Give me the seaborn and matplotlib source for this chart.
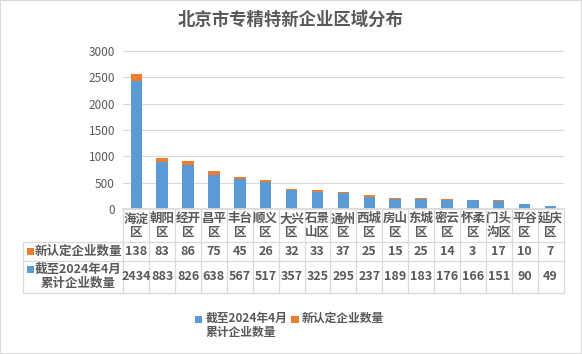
import pandas as pd
import seaborn as sns
import matplotlib.pyplot as plt
import matplotlib.transforms as mtrans
from matplotlib.patches import Rectangle
from matplotlib.lines import Line2D

districts = ["海淀区", "朝阳区", "经开区", "昌平区", "丰台区", "顺义区", "大兴区", "石景山区",
             "通州区", "西城区", "房山区", "东城区", "密云区", "怀柔区", "门头沟区", "平谷区", "延庆区"]
new_firms = [138, 83, 86, 75, 45, 26, 32, 33, 37, 25, 15, 25, 14, 3, 17, 10, 7]
total_firms = [2434, 883, 826, 638, 567, 517, 357, 325, 295, 237, 189, 183, 176, 166, 151, 90, 49]

new_label = "新认定企业数量"
total_label = "截至2024年4月\n累计企业数量"
blue = "#5B9BD5"
orange = "#ED7D31"
grey_txt = "#595959"
line_c = "#D9D9D9"

sns.set_theme(style="white")
plt.rcParams["font.family"] = ["Noto Sans CJK SC", "DejaVu Sans"]

df = pd.DataFrame({"区": districts, "new": new_firms, "total": total_firms})
df["stack"] = df["new"] + df["total"]

W, H = 582, 354
fig = plt.figure(figsize=(W / 100, H / 100), dpi=100)
# plot area in pixels
L, R, T, B = 123.3, 563.5, 51, 209
ax = fig.add_axes([L / W, 1 - B / H, (R - L) / W, (B - T) / H])

# orange drawn to the stacked height, blue over it
sns.barplot(data=df, x="区", y="stack", color=orange, width=0.44,
            saturation=1, ax=ax, linewidth=0)
sns.barplot(data=df, x="区", y="total", color=blue, width=0.44,
            saturation=1, ax=ax, linewidth=0)

ax.set_xlim(-0.5, len(districts) - 0.5)
ax.set_ylim(0, 3000)
ax.set_yticks(range(0, 3001, 500))
ax.yaxis.grid(True, color=line_c, linewidth=0.8)
ax.set_axisbelow(True)
ax.set_xticks([])
ax.set_xlabel("")
ax.set_ylabel("")
ax.tick_params(axis="y", labelsize=8.5, colors=grey_txt, length=0, pad=6)
for s in ["top", "right", "left"]:
    ax.spines[s].set_visible(False)
ax.spines["bottom"].set_color(line_c)

fig.text(0.5, 1 - 20 / H, "北京市专精特新企业区域分布", ha="center", va="center",
         fontsize=12.5, fontweight="bold", color=grey_txt)


def ay(py):
    return (B - py) / (B - T)


def axx(px):
    return (px - L) / (R - L)


trans = mtrans.blended_transform_factory(ax.transData, ax.transAxes)
y_hdr, y_r1, y_r2 = 242, 260.5, 292.5
n = len(districts)
kw = dict(color=line_c, linewidth=0.9, clip_on=False)

# table grid
for k in range(n + 1):
    ax.add_line(Line2D([k - 0.5, k - 0.5], [ay(B), ay(y_r2)], transform=trans, **kw))
ax.add_line(Line2D([axx(23.3), axx(23.3)], [ay(y_hdr), ay(y_r2)], transform=ax.transAxes, **kw))
for py in (y_hdr, y_r1, y_r2):
    ax.add_line(Line2D([axx(23.3), 1], [ay(py), ay(py)], transform=ax.transAxes, **kw))

txt = dict(ha="center", va="center", color=grey_txt, fontsize=9, fontweight="bold", clip_on=False)
for i, name in enumerate(districts):
    ax.text(i, ay((B + y_hdr) / 2), name[:2] + "\n" + name[2:], transform=trans,
            linespacing=1.05, **txt)
    ax.text(i, ay((y_hdr + y_r1) / 2), str(new_firms[i]), transform=trans, **txt)
    ax.text(i, ay((y_r1 + y_r2) / 2), str(total_firms[i]), transform=trans, **txt)

# row labels with colour keys
for (py0, py1), lab, col in [((y_hdr, y_r1), new_label, orange), ((y_r1, y_r2), total_label, blue)]:
    cy = (py0 + py1) / 2
    ax.text(axx(78), ay(cy), lab, transform=ax.transAxes, linespacing=1.05, **txt)
    sq_y = cy if "\n" not in lab else cy - 7.5
    fig.patches.append(Rectangle((27 / W, 1 - (sq_y + 4) / H), 7 / W, 7 / H,
                                 transform=fig.transFigure, facecolor=col, edgecolor="none"))

# legend, top-aligned like the reference
leg = dict(ha="left", va="top", color=grey_txt, fontsize=8.5, fontweight="bold", linespacing=1.1)
for (sx, tx), lab, col in [((195, 206), total_label, blue), ((291, 302), new_label, orange)]:
    fig.patches.append(Rectangle((sx / W, 1 - 323 / H), 7.5 / W, 7.5 / H,
                                 transform=fig.transFigure, facecolor=col, edgecolor="none"))
    fig.text(tx / W, 1 - 311.5 / H, lab, **leg)

fig.patches.append(Rectangle((0, 0), 1, 1, transform=fig.transFigure, fill=False,
                             edgecolor="#D9D9D9", linewidth=1.5))

fig.savefig("out.png", dpi=100)
